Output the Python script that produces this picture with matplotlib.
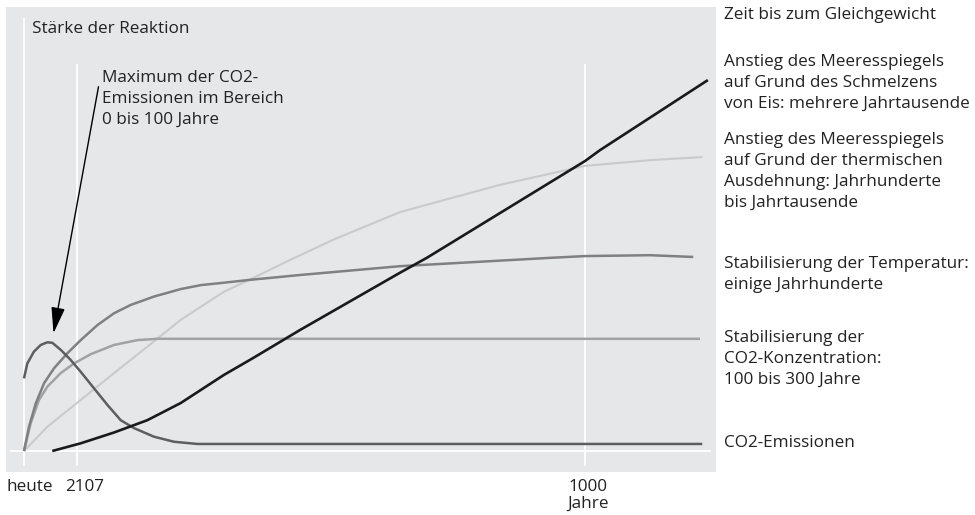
import matplotlib

matplotlib.use("Agg")

import matplotlib.pyplot as plt

plt.rcParams["font.family"] = ["Open Sans", "DejaVu Sans"]

# x in years from today (0 = heute, 1000 = 1000 Jahre), y = strength of response
emis_x = [0, 5.9, 17.8, 29.8, 41.5, 50.4, 65.4, 83.2, 101.1, 124.8, 148.5, 172.4, 196.1, 231.7,
          267.4, 308.9, 400, 600, 800, 1000, 1209]
emis_y = [16.5, 19.9, 22.6, 24.1, 24.7, 24.6, 23.0, 20.7, 18.0, 14.25, 10.5, 7.0, 5.2, 3.25,
          2.1, 1.6, 1.6, 1.6, 1.6, 1.6, 1.6]

conc_x = [0, 11.9, 26.7, 41.5, 65.4, 89.1, 118.9, 160.4, 202, 237.6, 400, 700, 1000, 1205]
conc_y = [0, 6.3, 11.6, 14.6, 17.7, 19.9, 22.0, 24.1, 25.2, 25.5, 25.5, 25.5, 25.5, 25.5]

temp_x = [0, 8.9, 20.9, 35.7, 53.5, 77.2, 101.1, 130.7, 160.4, 190.2, 231.7, 279.3, 315, 356.5,
          403, 492, 670, 938, 1000, 1116, 1193]
temp_y = [0, 5.5, 10.8, 15.4, 18.8, 22.2, 25.2, 28.6, 31.3, 33.2, 35.1, 36.8, 37.7, 38.25,
          38.9, 40.0, 42.0, 43.9, 44.3, 44.5, 44.1]

therm_x = [0, 41.5, 101.1, 160.4, 219.8, 279.3, 356.5, 408, 474, 551, 670, 849, 1000, 1116, 1209]
therm_y = [0, 5.5, 11.6, 17.7, 23.7, 29.8, 36.2, 39.3, 43.4, 48.0, 54.3, 60.5, 64.8, 66.1, 66.8]

ice_x = [50.4, 101.1, 160.4, 219.8, 279.3, 356.5, 408, 492, 670, 718, 1000, 1027, 1219]
ice_y = [0, 1.75, 4.2, 7.0, 10.9, 17.3, 21.1, 27.5, 40.5, 43.9, 65.9, 68.4, 84.3]

tick_pos = [0, 95, 1000]

right_labels = [
    (15, ["Zeit bis zum Gleichgewicht"]),
    (62, ["Anstieg des Meeresspiegels", "auf Grund des Schmelzens", "von Eis: mehrere Jahrtausende"]),
    (140, ["Anstieg des Meeresspiegels", "auf Grund der thermischen", "Ausdehnung: Jahrhunderte", "bis Jahrtausende"]),
    (264, ["Stabilisierung der Temperatur:", "einige Jahrhunderte"]),
    (338, ["Stabilisierung der", "CO2-Konzentration:", "100 bis 300 Jahre"]),
    (443, ["CO2-Emissionen"]),
]

W, H = 975, 515
BG = "#e6e7e9"
TXT = "#222222"
FS = 12.3
STEP = 21


def fx(px):
    return px / W


def fy(py):
    return 1 - py / H


fig = plt.figure(figsize=(W / 100, H / 100), dpi=100)
ax = fig.add_axes([fx(6), fy(472), 710 / W, 465 / H])
ax.set_facecolor(BG)
for spine in ax.spines.values():
    spine.set_visible(False)
ax.set_xticks([])
ax.set_yticks([])

xs = 1000 / 561
ys = 4.4
ax.set_xlim(-18 * xs, 692 * xs)
ax.set_ylim(-21 / ys, 444 / ys)

# white guide lines
ax.plot([0, 0], [-14 / ys, 432 / ys], color="white", lw=1.3, zorder=1)
for xp in tick_pos[1:]:
    ax.plot([xp, xp], [-14 / ys, 386 / ys], color="white", lw=1.3, zorder=1)
ax.plot([-13 * xs, 686 * xs], [0, 0], color="white", lw=1.3, zorder=1)

style = dict(solid_capstyle="butt", solid_joinstyle="round")
ax.plot(therm_x, therm_y, color="#cacaca", lw=1.5, zorder=2, **style)
ax.plot(conc_x, conc_y, color="#a2a2a2", lw=1.8, zorder=3, **style)
ax.plot(temp_x, temp_y, color="#808080", lw=1.8, zorder=3, **style)
ax.plot(emis_x, emis_y, color="#5e5e5e", lw=1.8, zorder=4, **style)
ax.plot(ice_x, ice_y, color="#1a1a1a", lw=1.9, zorder=5, **style)

ax.annotate(
    "",
    xy=(29 * xs, 115 / ys),
    xytext=(75 * xs, 367 / ys),
    arrowprops=dict(arrowstyle="-|>,head_length=1.6,head_width=0.42", color="black", lw=1.0),
    zorder=6,
)

fig.text(fx(32), fy(29), "Stärke der Reaktion", fontsize=FS, color=TXT, va="center")
for i, line in enumerate(["Maximum der CO2-", "Emissionen im Bereich", "0 bis 100 Jahre"]):
    fig.text(fx(102), fy(78 + i * STEP), line, fontsize=FS, color=TXT, va="center")

for top, lines in right_labels:
    for i, line in enumerate(lines):
        fig.text(fx(724), fy(top + i * STEP), line, fontsize=FS, color=TXT, va="center")

fig.text(fx(7), fy(487), "heute", fontsize=FS, color=TXT, va="center")
fig.text(fx(65), fy(487), "2107", fontsize=FS, color=TXT, va="center")
fig.text(fx(588), fy(487), "1000", fontsize=FS, color=TXT, va="center", ha="center")
fig.text(fx(588), fy(504), "Jahre", fontsize=FS, color=TXT, va="center", ha="center")

fig.savefig("out.png", dpi=100)
